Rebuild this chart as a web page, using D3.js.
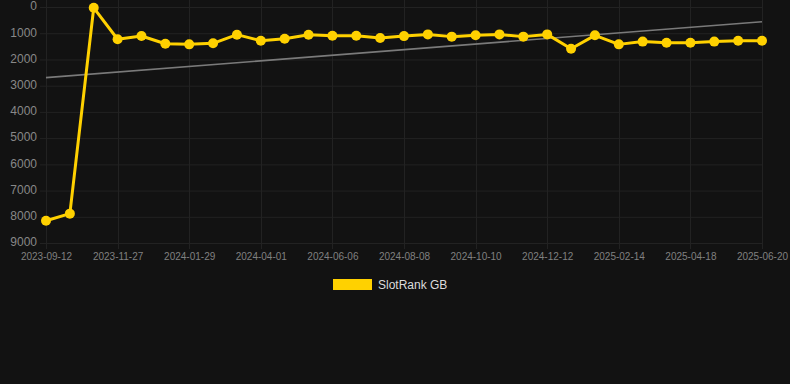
<!DOCTYPE html>
<html>
<head>
<meta charset="utf-8">
<script src="https://cdn.jsdelivr.net/npm/d3@7"></script>
<style>
  html, body { margin: 0; padding: 0; background: #121212; }
  svg { display: block; }
</style>
</head>
<body>
<svg class="chart"></svg>
<script>
(function () {
    'use strict';

    /* Data */

    var tickLabels = ['2023-09-12', '2023-11-27', '2024-01-29', '2024-04-01', '2024-06-06',
        '2024-08-08', '2024-10-10', '2024-12-12', '2025-02-14', '2025-04-18', '2025-06-20'];

    var rankValues = [8150, 7880, 30, 1230, 1105, 1400, 1425, 1385, 1055, 1285,
        1210, 1055, 1095, 1095, 1180, 1110, 1045, 1130, 1080, 1045,
        1130, 1045, 1590, 1080, 1425, 1320, 1360, 1360, 1320, 1285, 1285];

    var trendValues = [2695, 560];

    var yTicks = [0, 1000, 2000, 3000, 4000, 5000, 6000, 7000, 8000, 9000];

    var seriesName = 'SlotRank GB';

    /* Setup SVG */

    var width = 790,
        height = 384,
        left = 46,
        right = 762,
        top = 7,
        bottom = 243;

    var svg = d3.select('.chart')
        .attr('width', width)
        .attr('height', height);

    var idx = d3.range(rankValues.length);

    var x = d3.scalePoint().domain(idx).range([left, right]);
    var y = d3.scaleLinear().domain([0, 9000]).range([top, bottom]);

    /* Grid */

    var grid = svg.append('g');

    grid.selectAll('.hgrid')
        .data(yTicks)
        .enter().append('line')
        .attr('x1', 40).attr('x2', right)
        .attr('y1', function (d) { return y(d) + 0.5; })
        .attr('y2', function (d) { return y(d) + 0.5; })
        .style('stroke', '#222')
        .style('stroke-width', 1);

    var xTickIdx = idx.filter(function (i) { return i % 3 === 0; });

    grid.selectAll('.vgrid')
        .data(xTickIdx)
        .enter().append('line')
        .attr('x1', function (d) { return Math.round(x(d)) + 0.5; })
        .attr('x2', function (d) { return Math.round(x(d)) + 0.5; })
        .attr('y1', 0).attr('y2', bottom + 6)
        .style('stroke', '#222')
        .style('stroke-width', 1);

    /* Axes */

    var yAxis = d3.axisLeft(y).tickValues(yTicks).tickSize(0).tickPadding(0)
        .tickFormat(function (d) { return d; });

    var gy = svg.append('g')
        .attr('transform', 'translate(37,-1)')
        .call(yAxis);
    gy.select('.domain').remove();
    gy.selectAll('text')
        .style('fill', '#888')
        .style('font-family', 'Liberation Sans, Arial, sans-serif')
        .style('font-size', '12px');

    var xAxis = d3.axisBottom(x).tickValues(xTickIdx).tickSize(0).tickPadding(0)
        .tickFormat(function (d) { return tickLabels[d / 3]; });

    var gx = svg.append('g')
        .attr('transform', 'translate(0,' + (bottom + 10) + ')')
        .call(xAxis);
    gx.select('.domain').remove();
    gx.selectAll('text')
        .style('fill', '#808080')
        .style('font-family', 'Liberation Sans, Arial, sans-serif')
        .style('font-size', '10px');

    /* Trend line */

    svg.append('line')
        .attr('x1', x(0)).attr('x2', x(idx.length - 1))
        .attr('y1', y(trendValues[0])).attr('y2', y(trendValues[1]))
        .style('stroke', '#7a7a7a')
        .style('stroke-width', 1.6);

    /* Series */

    var line = d3.line()
        .x(function (d, i) { return x(i); })
        .y(function (d) { return y(d); });

    svg.append('path')
        .datum(rankValues)
        .attr('d', line)
        .style('fill', 'none')
        .style('stroke', '#ffd100')
        .style('stroke-width', 3)
        .style('stroke-linejoin', 'round');

    svg.selectAll('.dot')
        .data(rankValues)
        .enter().append('circle')
        .attr('cx', function (d, i) { return x(i); })
        .attr('cy', function (d) { return y(d); })
        .attr('r', 5)
        .style('fill', '#ffd100');

    /* Legend */

    var legend = svg.append('g').attr('transform', 'translate(333,279)');
    legend.append('rect')
        .attr('width', 39).attr('height', 11)
        .style('fill', '#ffd100');
    legend.append('text')
        .attr('x', 45).attr('y', 10)
        .text(seriesName)
        .style('fill', '#dcdcdc')
        .style('font-family', 'Liberation Sans, Arial, sans-serif')
        .style('font-size', '12px');

})();
</script>
</body>
</html>
